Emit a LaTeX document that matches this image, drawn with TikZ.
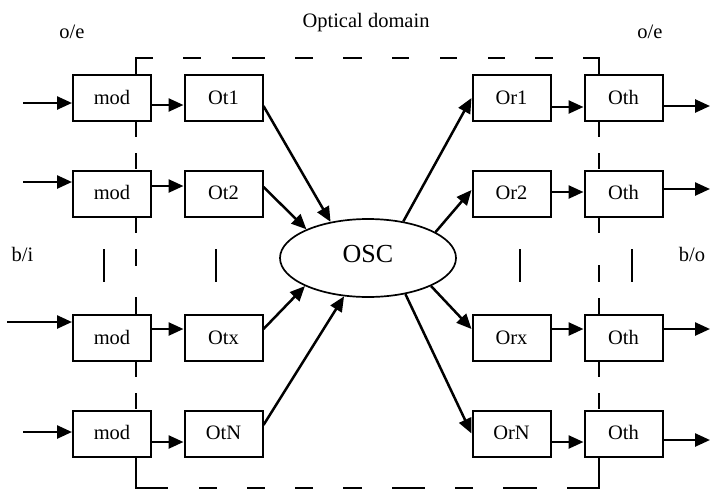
\documentclass[tikz,border=0pt]{standalone}
\usepackage{fontspec}
\setmainfont{Liberation Serif}
\usetikzlibrary{arrows.meta,shapes.geometric,calc}

\tikzset{
  blk/.style={draw, line width=2pt, fill=white, minimum width=78pt,
    minimum height=46pt, inner sep=0pt, text height=12.5pt, text depth=0pt},
  flow/.style={line width=2.5pt, -{Triangle[length=15pt,width=13pt]}},
  boundary/.style={line width=1.7pt, line join=miter},
  gapmark/.style={line width=2pt},
  lbl/.style={anchor=base, inner sep=0pt},
}

\begin{document}
\begin{tikzpicture}[x=1pt, y=-1pt, font=\fontsize{20.5}{24}\selectfont]
\useasboundingbox (0,0) rectangle (711,493);

% dashed optical-domain boundary (corners solid)
\draw[boundary] (136,74) -- (136,58) -- (153,58);
\draw[boundary] (583,58) -- (599,58) -- (599,74);
\draw[boundary] (136,458) -- (136,488) -- (168,488);
\draw[boundary] (567,488) -- (599,488) -- (599,458);
\foreach \a/\b in {183/201, 232/265, 295/313, 343/362, 392/409, 440/457, 488/505, 535/553}
  \draw[boundary] (\a,58) -- (\b,58);
\foreach \a/\b in {199/217, 247/265, 295/313, 343/362, 392/425, 455/473, 503/537}
  \draw[boundary] (\a,488) -- (\b,488);
\foreach \a/\b in {122/137, 153/169, 218/233, 249/266, 297/314, 362/377, 393/409}
  \draw[boundary] (136,\a) -- (136,\b);
\foreach \a/\b in {122/137, 153/169, 218/233, 265/282, 298/314, 362/377, 393/409}
  \draw[boundary] (599,\a) -- (599,\b);

% vertical ellipsis marks between channels
\foreach \x in {104,216,520,632}
  \draw[gapmark] (\x,249) -- (\x,282);

% channel blocks
\foreach \n/\y in {1/98, 2/193.5, x/338, N/433.5} {
  \node[blk] (mod\n) at (112,\y) {mod};
  \node[blk] (Ot\n)  at (223.5,\y) {Ot\n};
  \node[blk] (Or\n)  at (511.5,\y) {Or\n};
  \node[blk] (Oth\n) at (623.5,\y) {Oth};
}

% optical switching core
\node[draw, ellipse, line width=1.7pt, minimum width=176pt, minimum height=78pt,
  inner sep=0pt, font=\fontsize{26}{30}\selectfont, text height=17pt, text depth=8.5pt]
  (osc) at (368,258) {OSC};

% free ends of the electrical inputs and outputs
\coordinate (in1) at (23,103);
\coordinate (in2) at (23,182);
\coordinate (inx) at (7,322);
\coordinate (inN) at (23,432);
\coordinate (out1) at (710,106);
\coordinate (out2) at (710,189);
\coordinate (outx) at (710,329);
\coordinate (outN) at (710,440);

% connectors
\foreach \n/\a/\b/\c/\d/\e/\f in {1/7/8/136/46/0/9, 2/-7.5/-6.5/155/21/-3.5/-1.5,
    x/-9/-9/204/-24/-9/-9, N/8.5/-8.5/238/-44/0/8.5} {
  \draw[flow] (in\n) -- (in\n -| mod\n.west);
  \draw[flow] ($(mod\n.east)+(0,\a)$) -- ($(Ot\n.west)+(0,\a)$);
  \draw[flow] ($(Ot\n.east)+(0,\b)$) -- (osc.\c);
  \draw[flow] (osc.\d) -- ($(Or\n.west)+(0,\e)$);
  \draw[flow] ($(Or\n.east)+(0,\f)$) -- ($(Oth\n.west)+(0,\f)$);
  \draw[flow] (out\n -| Oth\n.east) -- (out\n);
}

% labels
\node[lbl] (title) at (366,27) {Optical domain};
\node[lbl] (oeL) at (72,38) {o/e};
\node[lbl] (oeR) at (650,38) {o/e};
\node[lbl] (bi) at (22.5,261) {b/i};
\node[lbl] (bo) at (692,261) {b/o};
\end{tikzpicture}
\end{document}
